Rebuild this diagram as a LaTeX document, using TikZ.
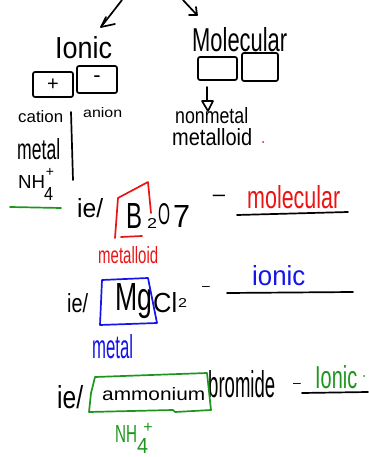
\documentclass[tikz,border=0pt]{standalone}
\usepackage{fontspec}
\setmainfont{Liberation Sans}
\usepackage{graphicx}
\definecolor{inkred}{RGB}{235,20,20}
\definecolor{inkblue}{RGB}{20,20,235}
\definecolor{inkgreen}{RGB}{30,150,30}
% set a word into a box of given width and height above the baseline
\newcommand\fitw[3]{\resizebox{#1pt}{#2pt}{#3}}
\begin{document}
\begin{tikzpicture}[x=1pt,y=-1pt,
  ink/.style={line width=1.7pt, line cap=round, line join=round},
  word/.style={inner sep=0pt, anchor=base west},
  cell/.style={ink, draw, rounded corners=2pt, inner sep=0pt}]
\fill[white] (0,0) rectangle (368,457);
\useasboundingbox (0,0) rectangle (368,457);

% arrows entering from above
\coordinate (la0) at (122,0); \coordinate (la1) at (101,27);
\draw[ink] (la0) -- (la1);
\draw[ink] (106,17) -- (la1) -- (115,24);
\coordinate (ra0) at (183,0); \coordinate (ra1) at (197,15);
\draw[ink] (ra0) -- (ra1);
\draw[ink] (189,15) -- (ra1) -- (196,7);

% ionic column
\node[word] (ionic) at (55,59) {\fitw{57}{22}{Ionic}};
\node[cell, minimum width=40pt, minimum height=25pt] (cat) at (53,84.5) {\fontsize{20}{20}\selectfont +};
\node[cell, minimum width=40pt, minimum height=27pt] (an) at (97,79.5) {\fontsize{22}{22}\selectfont -};
\node[word] (cation) at (18,123) {\fitw{45}{12}{cation}};
\node[word] (anion) at (83,118) {\fitw{39}{10}{anion}};
\coordinate (sep0) at (71,112); \coordinate (sep1) at (73,180);
\draw[ink] (sep0) -- (sep1);
\node[word] (metal) at (17,160) {\fitw{43}{21}{metal}};
\node[word] (nh) at (18,189) {\fitw{27}{13}{NH}};
\node[word] (nhsub) at (44,200) {\fitw{9}{13}{4}};
\node[inner sep=0pt] (nhsup) at (50,172) {\fontsize{14}{14}\selectfont +};
\coordinate (g0) at (10,207); \coordinate (g1) at (61,208);
\draw[ink, inkgreen] (g0) -- (g1);

% molecular column
\node[word] (molec) at (192,52) {\fitw{95}{24}{Molecular}};
\node[cell, minimum width=39pt, minimum height=23pt] (mb1) at (217.5,68.5) {};
\node[cell, minimum width=36pt, minimum height=28pt] (mb2) at (260,67) {};
\node[word] (nonmetal) at (175,124) {\fitw{73}{16}{nonmetal}};
\node[word] (metalloid) at (172,146) {\fitw{80}{17}{metalloid}};
\coordinate (dtop) at (207,87); \coordinate (dbar) at (207,101);
\coordinate (dl) at (202,101); \coordinate (dr) at (213,101); \coordinate (dtip) at (208,111);
\draw[ink] (dtop) -- (dbar);
\draw[ink] (dl) -- (dr) -- (dtip) -- cycle;
\fill[inkred] (263,142) circle (1pt);

% example 1: B2O7
\node[word] (ie1) at (77,217) {\fitw{26}{19}{ie/}};
\node[word] (b) at (126,228) {\fitw{16}{25}{B}};
\node[word] (b2) at (147,228) {\fitw{10}{10}{2}};
\node[word] (o) at (158,224) {\fitw{12}{21}{O}};
\node[word] (o7) at (173,227) {\fitw{17}{22}{7}};
\draw[ink, inkred] (115,238) -- (118,198) -- (148,182) -- (151,213);
\draw[ink, inkred] (121,237) -- (142,236);
\node[word, text=inkred] (metalloid1) at (98,263) {\fitw{60}{17}{metalloid}};
\node[inner sep=0pt] (dash1) at (219,198) {\fontsize{22}{22}\selectfont –};
\node[word, text=inkred] (ans1) at (247,208) {\fitw{93}{23}{molecular}};
\coordinate (u1a) at (237,215); \coordinate (u1b) at (348,212);
\draw[ink] (u1a) -- (u1b);

% example 2: MgCl2
\node[word] (ie2) at (67,312) {\fitw{21}{19}{ie/}};
\node[word] (mg) at (115,310) {\fitw{37}{27}{Mg}};
\node[word] (cl) at (153,312) {\fitw{24}{20}{Cl}};
\node[word] (cl2) at (178,307) {\fitw{9}{9}{2}};
\draw[ink, inkblue] (102,280) -- (148,278) -- (157,323) -- (100,325) -- cycle;
\node[word, text=inkblue] (metal2) at (92,358) {\fitw{41}{24}{metal}};
\node[inner sep=0pt] (dash2) at (206,288) {\fontsize{14}{14}\selectfont –};
\node[word, text=inkblue] (ans2) at (252,285) {\fitw{53}{20}{ionic}};
\coordinate (u2a) at (227,293); \coordinate (u2b) at (353,292);
\draw[ink] (u2a) -- (u2b);

% example 3: ammonium bromide
\node[word] (ie3) at (57,408) {\fitw{26}{23}{ie/}};
\node[word] (amm) at (102,400) {\fitw{103}{13}{ammonium}};
\node[word] (brom) at (208,397) {\fitw{67}{27}{bromide}};
\draw[ink, inkgreen] (95,377) -- (207,373) -- (211,410) -- (175,412) -- (173,410) -- (89,412) -- (91,393) -- cycle;
\node[word, text=inkgreen] (nh2) at (115,442) {\fitw{22}{17}{NH}};
\node[word, text=inkgreen] (nh2sub) at (137,453) {\fitw{11}{15}{4}};
\node[inner sep=0pt, text=inkgreen] (nh2sup) at (148,428) {\fontsize{16}{16}\selectfont +};
\node[inner sep=0pt] (dash3) at (297,385) {\fontsize{14}{14}\selectfont –};
\node[word, text=inkgreen] (ans3) at (315,388) {\fitw{42}{23}{Ionic}};
\fill[inkgreen] (364,376) circle (1pt);
\coordinate (u3a) at (302,393); \coordinate (u3b) at (368,392);
\draw[ink] (u3a) -- (u3b);
\end{tikzpicture}
\end{document}
